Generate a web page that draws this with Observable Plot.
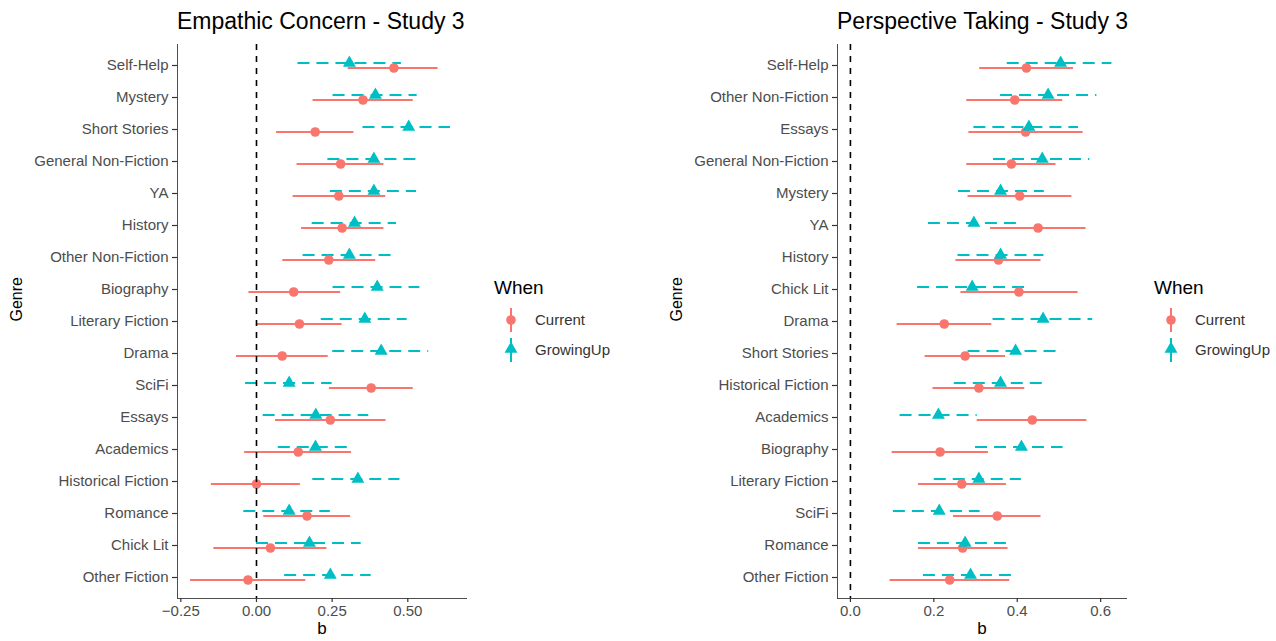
<!DOCTYPE html>
<html>
<head>
<meta charset="utf-8">
<script src="https://cdn.jsdelivr.net/npm/d3@7"></script>
<script src="https://cdn.jsdelivr.net/npm/@observablehq/plot@0.6"></script>
<style>
  html, body { margin: 0; padding: 0; background: #fff; }
  #root { position: relative; width: 1276px; height: 641px; overflow: hidden; }
  .panel { position: absolute; top: 0; }
  .panel [aria-label$="axis line"] line, .panel [aria-label$="axis line"] { stroke: #333; stroke-width: 1.6; }
  .panel [aria-label$="axis tick"] path { stroke: #333; stroke-width: 1.2; }
  #overlay { position: absolute; left: 0; top: 0; pointer-events: none; }
</style>
</head>
<body>
<div id="root"></div>
<script>
// ---------- Data: Empathic Concern - Study 3 (top to bottom) ----------
const ecGenres = ["Self-Help", "Mystery", "Short Stories", "General Non-Fiction", "YA", "History",
  "Other Non-Fiction", "Biography", "Literary Fiction", "Drama", "SciFi", "Essays", "Academics",
  "Historical Fiction", "Romance", "Chick Lit", "Other Fiction"];
const ecCurrentB  = [0.454, 0.352, 0.194, 0.278, 0.272, 0.283, 0.239, 0.123, 0.142, 0.085, 0.379, 0.244, 0.138, 0.000, 0.167, 0.046, -0.028];
const ecCurrentLo = [0.303, 0.187, 0.066, 0.134, 0.121, 0.149, 0.087, -0.025, 0.000, -0.066, 0.241, 0.063, -0.039, -0.149, 0.024, -0.141, -0.218];
const ecCurrentHi = [0.600, 0.518, 0.322, 0.421, 0.427, 0.421, 0.394, 0.278, 0.283, 0.237, 0.518, 0.428, 0.314, 0.145, 0.311, 0.233, 0.163];
const ecGrowB  = [0.307, 0.393, 0.503, 0.388, 0.388, 0.324, 0.307, 0.399, 0.358, 0.412, 0.108, 0.196, 0.195, 0.335, 0.108, 0.175, 0.244];
const ecGrowLo = [0.137, 0.253, 0.352, 0.236, 0.244, 0.184, 0.154, 0.253, 0.214, 0.252, -0.036, 0.022, 0.072, 0.186, -0.042, 0.000, 0.093];
const ecGrowHi = [0.479, 0.531, 0.641, 0.544, 0.529, 0.463, 0.463, 0.540, 0.498, 0.569, 0.250, 0.371, 0.319, 0.474, 0.244, 0.346, 0.379];
const ecTicks = [-0.25, 0, 0.25, 0.5];

// ---------- Data: Perspective Taking - Study 3 (top to bottom) ----------
const ptGenres = ["Self-Help", "Other Non-Fiction", "Essays", "General Non-Fiction", "Mystery", "YA",
  "History", "Chick Lit", "Drama", "Short Stories", "Historical Fiction", "Academics", "Biography",
  "Literary Fiction", "SciFi", "Romance", "Other Fiction"];
const ptCurrentB  = [0.422, 0.394, 0.420, 0.386, 0.406, 0.450, 0.355, 0.404, 0.225, 0.275, 0.308, 0.436, 0.215, 0.267, 0.352, 0.269, 0.238];
const ptCurrentLo = [0.310, 0.279, 0.284, 0.279, 0.282, 0.336, 0.253, 0.265, 0.112, 0.179, 0.198, 0.304, 0.100, 0.163, 0.247, 0.163, 0.095];
const ptCurrentHi = [0.535, 0.509, 0.558, 0.493, 0.531, 0.565, 0.457, 0.546, 0.339, 0.372, 0.418, 0.567, 0.331, 0.374, 0.457, 0.378, 0.382];
const ptGrowB  = [0.504, 0.474, 0.428, 0.460, 0.360, 0.296, 0.360, 0.292, 0.462, 0.396, 0.360, 0.211, 0.410, 0.308, 0.213, 0.275, 0.288];
const ptGrowLo = [0.376, 0.360, 0.296, 0.343, 0.259, 0.187, 0.258, 0.161, 0.342, 0.282, 0.249, 0.119, 0.300, 0.201, 0.103, 0.163, 0.175];
const ptGrowHi = [0.627, 0.591, 0.547, 0.574, 0.465, 0.410, 0.464, 0.428, 0.581, 0.510, 0.472, 0.304, 0.510, 0.410, 0.311, 0.390, 0.402];
const ptTicks = [0, 0.2, 0.4, 0.6];

const whenLevels = ["Current", "GrowingUp"];
const whenColors = ["#F8766D", "#00BFC4"];
const titles = ["Empathic Concern - Study 3", "Perspective Taking - Study 3"];

const FONT = "'Liberation Sans', Arial, Helvetica, sans-serif";

function rows(genres, b, lo, hi, when) {
  return genres.map((g, i) => ({genre: g, b: b[i], lo: lo[i], hi: hi[i], when}));
}

function panel(genres, cur, grow, xDomain, ticks, fmt) {
  return Plot.plot({
    width: 470, height: 641,
    marginLeft: 177, marginRight: 4, marginTop: 44, marginBottom: 43,
    style: {fontFamily: FONT, fontSize: "15px", color: "#4d4d4d", background: "transparent", overflow: "visible"},
    x: {domain: xDomain, ticks, tickFormat: fmt, tickSize: 4, tickPadding: 3, line: true, label: null},
    y: {type: "point", domain: genres, padding: 0.6, tickSize: 5, tickPadding: 4, line: true, label: null},
    marks: [
      Plot.ruleY(cur, {y: "genre", x1: "lo", x2: "hi", dy: 2.5, stroke: whenColors[0], strokeWidth: 2}),
      Plot.ruleY(grow, {y: "genre", x1: "lo", x2: "hi", dy: -2.5, stroke: whenColors[1], strokeWidth: 2, strokeDasharray: "12,7"}),
      Plot.dot(cur, {x: "b", y: "genre", dy: 2.5, r: 4.8, fill: whenColors[0], symbol: "circle"}),
      Plot.dot(grow, {x: "b", y: "genre", dy: -2.5, r: 4.8, fill: whenColors[1], symbol: "triangle"}),
      Plot.ruleX([0], {stroke: "#000", strokeWidth: 1.6, strokeDasharray: "6,6"}),
      Plot.text(["Genre"], {text: d => d, frameAnchor: "left", dx: -161, rotate: -90, fontSize: 16, fill: "#000"}),
      Plot.text(["b"], {text: d => d, frameAnchor: "bottom", dy: 35, fontSize: 17, fill: "#000"})
    ]
  });
}

const root = document.getElementById("root");

const left = panel(ecGenres,
  rows(ecGenres, ecCurrentB, ecCurrentLo, ecCurrentHi, "Current"),
  rows(ecGenres, ecGrowB, ecGrowLo, ecGrowHi, "GrowingUp"),
  [-0.261, 0.694], ecTicks, d3.format(".2f"));
left.classList.add("panel");
left.style.left = "0px";
root.appendChild(left);

const right = panel(ptGenres,
  rows(ptGenres, ptCurrentB, ptCurrentLo, ptCurrentHi, "Current"),
  rows(ptGenres, ptGrowB, ptGrowLo, ptGrowHi, "GrowingUp"),
  [-0.031, 0.662], ptTicks, d3.format(".1f"));
right.classList.add("panel");
right.style.left = "660px";
root.appendChild(right);

// ---------- Titles and legends overlay ----------
const svg = d3.select(root).append("svg")
  .attr("id", "overlay").attr("width", 1276).attr("height", 641)
  .style("font-family", FONT);

[177, 837].forEach((x, i) => {
  svg.append("text").attr("x", x).attr("y", 29)
    .attr("font-size", 23).attr("fill", "#000").text(titles[i]);
});

[494, 1154].forEach(lx => {
  const g = svg.append("g");
  g.append("text").attr("x", lx).attr("y", 294).attr("font-size", 19).attr("fill", "#000").text("When");
  const sx = lx + 17;
  // Current
  g.append("line").attr("x1", sx).attr("x2", sx).attr("y1", 308).attr("y2", 332)
    .attr("stroke", whenColors[0]).attr("stroke-width", 2);
  g.append("circle").attr("cx", sx).attr("cy", 320).attr("r", 4.8).attr("fill", whenColors[0]);
  g.append("text").attr("x", lx + 41).attr("y", 325).attr("font-size", 15).attr("fill", "#333").text(whenLevels[0]);
  // GrowingUp
  g.append("line").attr("x1", sx).attr("x2", sx).attr("y1", 338).attr("y2", 362)
    .attr("stroke", whenColors[1]).attr("stroke-width", 2);
  g.append("path").attr("d", d3.symbol(d3.symbolTriangle, Math.PI * 4.8 * 4.8)())
    .attr("transform", `translate(${sx},349)`).attr("fill", whenColors[1]);
  g.append("text").attr("x", lx + 41).attr("y", 355).attr("font-size", 15).attr("fill", "#333").text(whenLevels[1]);
});
</script>
</body>
</html>
